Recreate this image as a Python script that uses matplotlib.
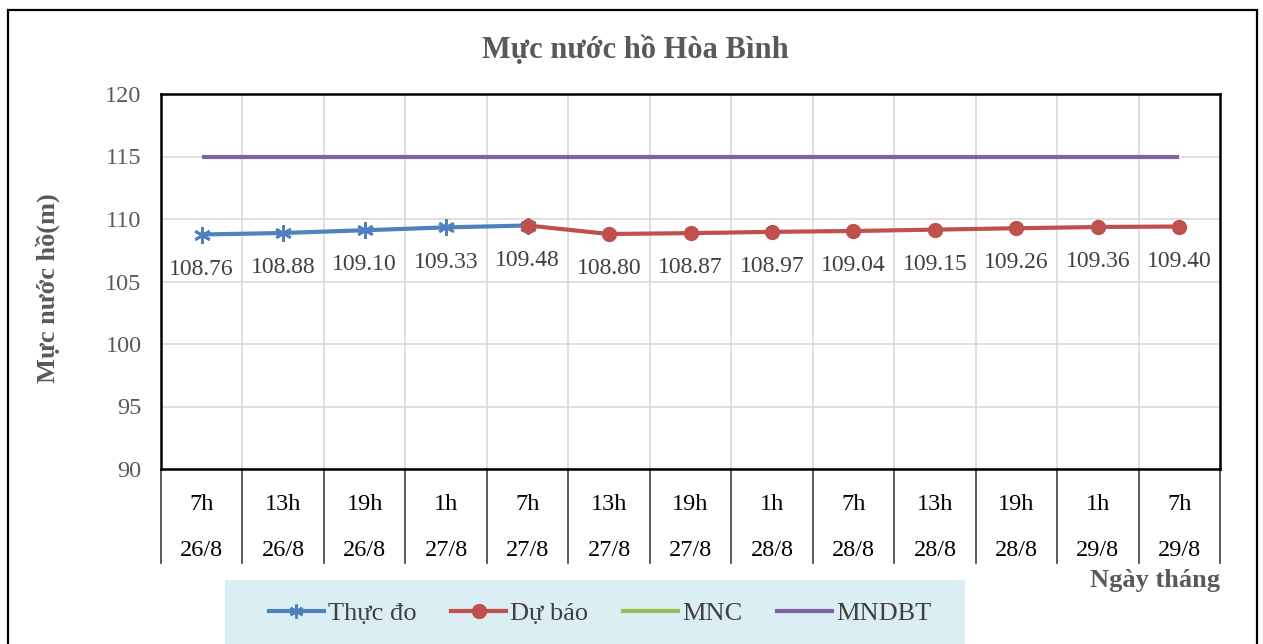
import matplotlib.pyplot as plt
from matplotlib.patches import Rectangle
from matplotlib.lines import Line2D
import matplotlib.transforms as mtransforms

plt.rcParams['font.family'] = ['Liberation Serif', 'DejaVu Serif']

# Data
hours = ["7h", "13h", "19h", "1h", "7h", "13h", "19h", "1h", "7h", "13h", "19h", "1h", "7h"]
days = ["26/8", "26/8", "26/8", "27/8", "27/8", "27/8", "27/8", "28/8", "28/8", "28/8", "28/8", "29/8", "29/8"]
thuc_do = [108.76, 108.88, 109.10, 109.33, 109.48]
du_bao = [109.48, 108.80, 108.87, 108.97, 109.04, 109.15, 109.26, 109.36, 109.40]
mnc = [80] * 13
mndbt = [115] * 13

W, H = 1263, 644
fig = plt.figure(figsize=(W / 100, H / 100), dpi=100)

# outer chart border
fig.patches.append(Rectangle((8 / W, -0.02), (1257 - 8) / W, (H - 10) / H + 0.02,
                             transform=fig.transFigure, fill=False,
                             edgecolor='black', linewidth=1.6))

ax = fig.add_axes([161 / W, (H - 469) / H, (1220 - 161) / W, (469 - 94) / H])

x_all = list(range(len(hours)))
x_tdo = x_all[:len(thuc_do)]
x_db = x_all[4:4 + len(du_bao)]

ax.plot(x_all, mnc, color='#9BBB59', linewidth=3)
ax.plot(x_all, mndbt, color='#8064A2', linewidth=3, solid_capstyle='butt')
ax.plot(x_tdo, thuc_do, color='#4F81BD', linewidth=3, marker=(6, 2, 0),
        markersize=12, markeredgewidth=2)
ax.plot(x_db, du_bao, color='#C0504D', linewidth=3, marker='o', markersize=10)

# data labels
labels = thuc_do[:4] + du_bao
for xi, v in zip(x_all, labels):
    ax.annotate(f"{v:.2f}", (xi, v), xytext=(0, -25), textcoords='offset points',
                ha='center', va='center', fontsize=17, color='#404040')

ax.set_xlim(-0.5, len(hours) - 0.5)
ax.set_ylim(90, 120)
ax.set_yticks(range(90, 121, 5))
ax.tick_params(axis='y', labelsize=17.5, labelcolor='#595959', length=0, pad=14)
ax.set_xticks([])
ax.set_xticks([i - 0.5 for i in range(1, len(hours))], minor=True)
ax.tick_params(axis='x', which='minor', length=0)
ax.grid(True, axis='y', color='#D9D9D9', linewidth=1.2)
ax.grid(True, axis='x', which='minor', color='#D9D9D9', linewidth=1.2)
ax.set_axisbelow(True)
for s in ax.spines.values():
    s.set_linewidth(1.8)
    s.set_color('black')

# category labels below the axis
trans = mtransforms.blended_transform_factory(ax.transData, ax.transAxes)
for i, (h, d) in enumerate(zip(hours, days)):
    ax.text(i, -(505 - 469) / 375, h, transform=trans, ha='center', va='center',
            fontsize=17.5, color='black')
    ax.text(i, -(550 - 469) / 375, d, transform=trans, ha='center', va='center',
            fontsize=17.5, color='black')
for i in range(len(hours) + 1):
    ax.plot([i - 0.5, i - 0.5], [0, -(563 - 469) / 375], transform=trans,
            color='#404040', linewidth=1.2, clip_on=False)

fig.text(635 / W, 1 - 50 / H, "Mực nước hồ Hòa Bình", ha='center', va='center',
         fontsize=22, fontweight='bold', color='#595959')
fig.text(48 / W, 1 - 288 / H, "Mực nước hồ(m)", ha='center', va='center',
         rotation=90, fontsize=19, fontweight='bold', color='#595959')
fig.text(1220 / W, 1 - 581 / H, "Ngày tháng", ha='right', va='center',
         fontsize=19, fontweight='bold', color='#595959')

# legend box
fig.patches.append(Rectangle((225 / W, -0.02), (965 - 225) / W, (H - 580) / H + 0.02,
                             transform=fig.transFigure, facecolor='#DBEEF4',
                             edgecolor='none'))
handles = [
    Line2D([], [], color='#4F81BD', linewidth=3, marker=(6, 2, 0), markersize=10,
           markeredgewidth=2),
    Line2D([], [], color='#C0504D', linewidth=3, marker='o', markersize=10),
    Line2D([], [], color='#9BBB59', linewidth=3),
    Line2D([], [], color='#8064A2', linewidth=3),
]
leg = fig.legend(handles, ["Thực đo", "Dự báo", "MNC", "MNDBT"], ncol=4,
                 loc='center', bbox_to_anchor=(600 / W, 1 - 613 / H),
                 frameon=False, fontsize=19, handlelength=2.1, handletextpad=0.15,
                 columnspacing=1.3)
for t in leg.get_texts():
    t.set_color('#404040')

fig.savefig("out.png", dpi=100)
